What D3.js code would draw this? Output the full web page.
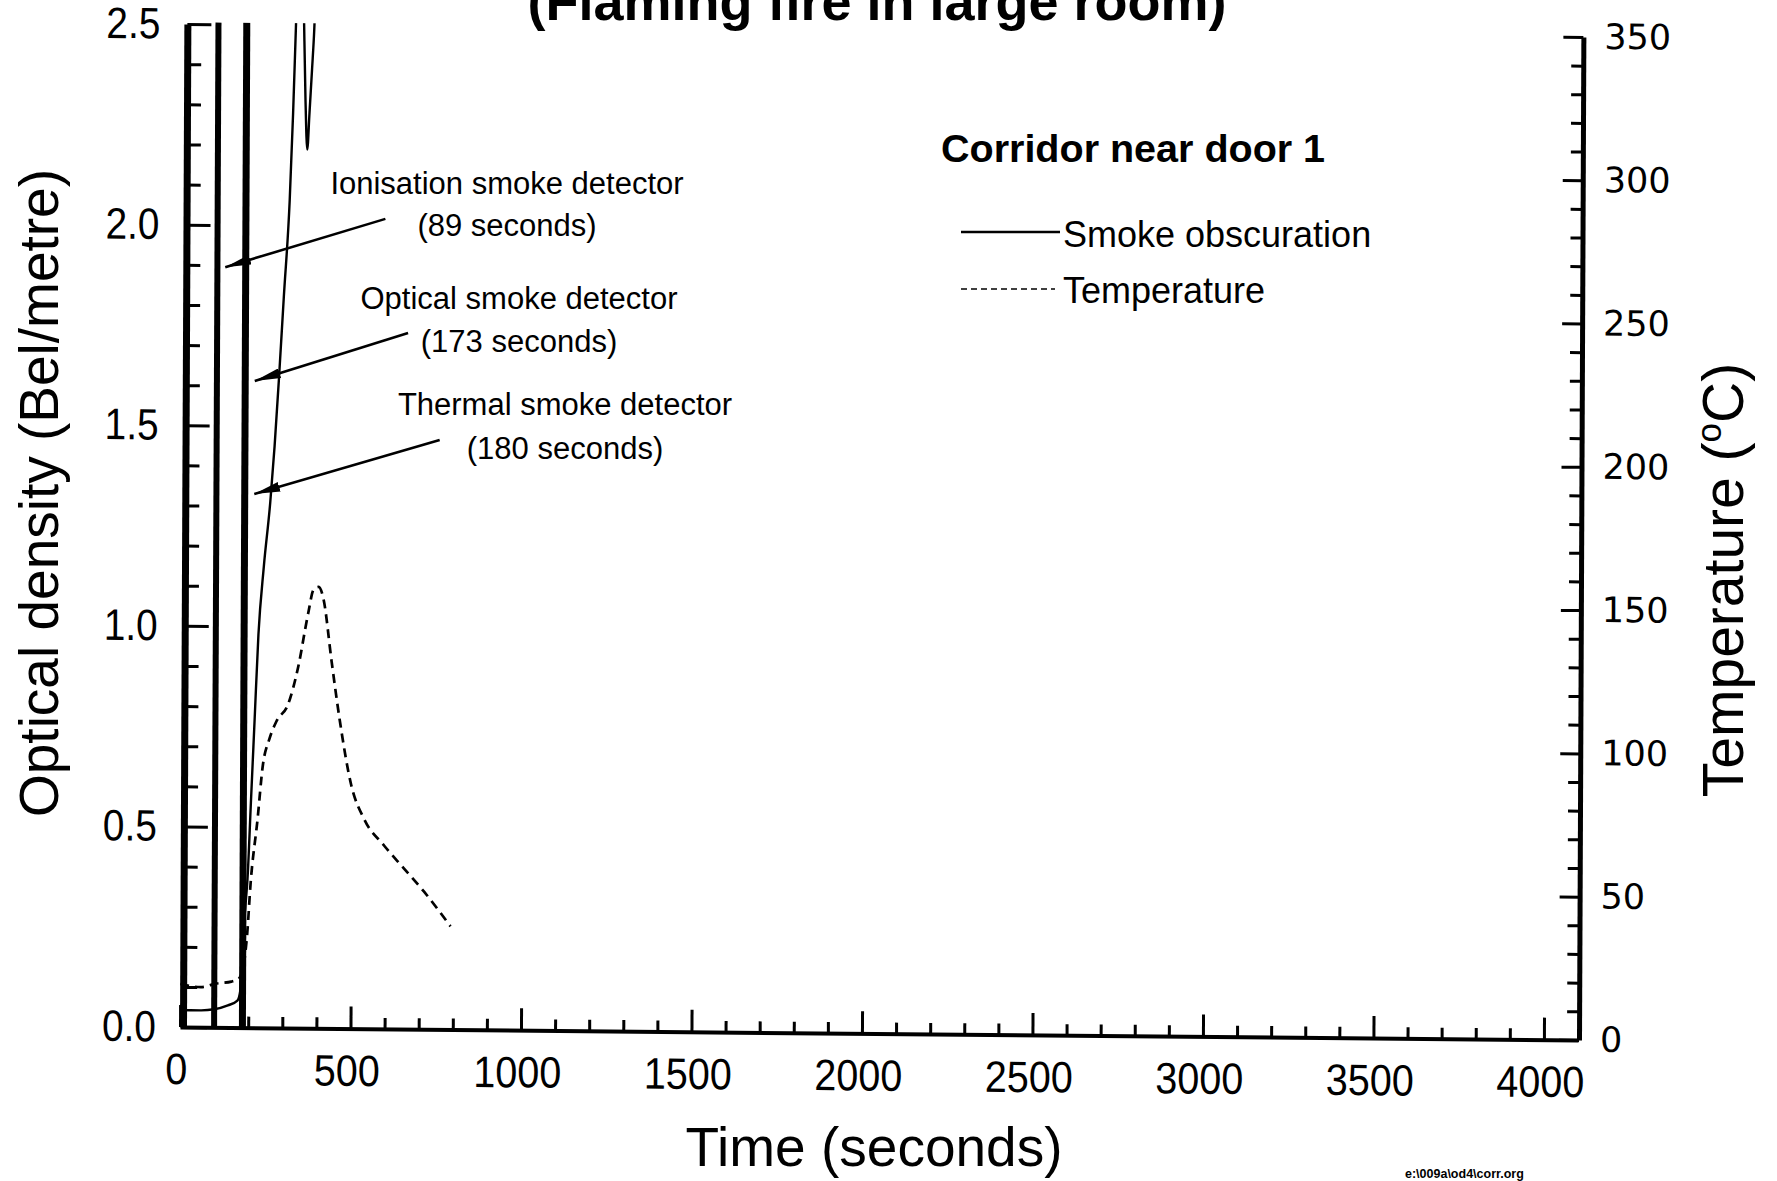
<!DOCTYPE html>
<html><head><meta charset="utf-8">
<script src="https://cdn.jsdelivr.net/npm/d3@7"></script>
<style>
html,body{margin:0;padding:0;background:#fff;}
svg{display:block;font-family:"Liberation Sans",Arial,Helvetica,sans-serif;}
</style></head><body>
<svg id="chart" width="1777" height="1181"></svg>
<script>
// ---- data ----
const smokeTime    = [0, 60, 100, 140, 168, 176, 182, 190, 196, 205, 215, 225, 240, 258, 270, 282, 295, 311, 320, 327, 336, 343, 350, 356, 362, 368, 375, 381, 390, 420, 500, 600, 700, 800];
const smokeDensity = [0.042, 0.042, 0.045, 0.055, 0.067, 0.09, 0.2, 0.3, 0.37, 0.56, 0.77, 0.98, 1.15, 1.31, 1.45, 1.62, 1.82, 2.06, 2.28, 2.49, 2.75, 2.8, 2.55, 2.32, 2.19, 2.28, 2.39, 2.49, 2.75, 3.0, 3.2, 3.3, 3.3, 3.3];
const tempTime  = [0, 60, 107, 150, 171, 186, 196, 205, 225, 239, 259, 279, 313, 342, 371, 386, 401, 415, 440, 464, 499, 538, 596, 655, 714, 792];
const tempValue = [15, 14, 15.3, 16, 17, 22, 33, 50, 73, 91, 101, 107, 113, 126, 145, 153, 154, 150, 128, 108, 85, 73, 64, 56, 48, 36];
const detectorMarkTimes = [100, 183];
const xTickValues = [0, 500, 1000, 1500, 2000, 2500, 3000, 3500, 4000];
const yLeftTickValues = [0, 0.5, 1.0, 1.5, 2.0, 2.5];
const yRightTickValues = [0, 50, 100, 150, 200, 250, 300, 350];
const annotationLines = [["Ionisation smoke detector", "(89 seconds)"], ["Optical smoke detector", "(173 seconds)"], ["Thermal smoke detector", "(180 seconds)"]];
const arrowFromTime  = [592, 660, 754];
const arrowFromValue = [2.019, 1.735, 1.469];
const arrowToTime    = [123, 211, 211];
const arrowToValue   = [1.895, 1.612, 1.330];
const legendLabels = ["Smoke obscuration", "Temperature"];

// ---- scales ----
const x  = d3.scaleLinear().domain([0, 4100]).range([180, 1578]);
const y  = d3.scaleLinear().domain([0, 2.5]).range([1027, 24]);
const yT = d3.scaleLinear().domain([0, 350]).range([1027, 24]);

const svg = d3.select("#chart");
const defs = svg.append("defs");
defs.append("clipPath").attr("id", "clip").append("rect")
  .attr("x", 180).attr("y", 22).attr("width", 1398).attr("height", 1005);
defs.append("marker").attr("id", "ah").attr("viewBox", "0 0 26 10")
  .attr("refX", 26).attr("refY", 5).attr("markerWidth", 26).attr("markerHeight", 10)
  .attr("markerUnits", "userSpaceOnUse").attr("orient", "auto")
  .append("path").attr("d", "M0,0 L26,5 L0,10 Z").attr("fill", "#000");

// the scanned frame is slightly sheared
const plot = svg.append("g")
  .attr("transform", "translate(180,1027) skewY(0.53) skewX(-0.25) translate(-180,-1027)");

function styleAxis(g, tickW) {
  g.attr("font-family", null).attr("font-size", null);
  g.selectAll(".tick line").attr("stroke", "#000").attr("stroke-width", tickW);
}

// minor ticks
const xMinor = d3.range(0, 4101, 100).filter(v => v % 500 !== 0);
const yMinor = d3.range(0, 26, 1).map(v => v / 10).filter(v => Math.round(v * 10) % 5 !== 0);
const tMinor = d3.range(0, 351, 10).filter(v => v % 50 !== 0);

plot.append("g").attr("transform", "translate(0,1027)")
  .call(d3.axisBottom(x).tickValues(xMinor).tickFormat("").tickSizeInner(-11).tickSizeOuter(0))
  .call(g => { g.select(".domain").remove(); styleAxis(g, 3); });
plot.append("g").attr("transform", "translate(183,0)")
  .call(d3.axisLeft(y).tickValues(yMinor).tickFormat("").tickSizeInner(-14).tickSizeOuter(0))
  .call(g => { g.select(".domain").remove(); styleAxis(g, 3); });
plot.append("g").attr("transform", "translate(1579,0)")
  .call(d3.axisRight(yT).tickValues(tMinor).tickFormat("").tickSizeInner(-12).tickSizeOuter(0))
  .call(g => { g.select(".domain").remove(); styleAxis(g, 3); });

// major axes
const xAxisG = plot.append("g").attr("transform", "translate(0,1027)")
  .call(d3.axisBottom(x).tickValues(xTickValues).tickFormat(d3.format("d")).tickSizeInner(-22).tickSizeOuter(0).tickPadding(26));
styleAxis(xAxisG, 3);
xAxisG.select(".domain").attr("stroke", "#000").attr("stroke-width", 4);
xAxisG.selectAll("text").attr("font-size", 44).attr("fill", "#000").attr("dx", -4)
  .attr("textLength", d => String(d).length * 22).attr("lengthAdjust", "spacingAndGlyphs");

const yAxisG = plot.append("g").attr("transform", "translate(183,0)")
  .call(d3.axisLeft(y).tickValues(yLeftTickValues).tickFormat(d3.format(".1f")).tickSizeInner(-24).tickSizeOuter(0).tickPadding(27));
styleAxis(yAxisG, 3);
yAxisG.select(".domain").attr("stroke", "#000").attr("stroke-width", 7);
yAxisG.selectAll("text").attr("font-size", 44).attr("fill", "#000")
  .attr("textLength", 54).attr("lengthAdjust", "spacingAndGlyphs");

const yRAxisG = plot.append("g").attr("transform", "translate(1579,0)")
  .call(d3.axisRight(yT).tickValues(yRightTickValues).tickFormat(d3.format("d")).tickSizeInner(-20).tickSizeOuter(0).tickPadding(21));
styleAxis(yRAxisG, 3);
yRAxisG.select(".domain").attr("stroke", "#000").attr("stroke-width", 5);
yRAxisG.selectAll("text").attr("font-size", 35).attr("fill", "#000")
  .attr("font-family", "'DejaVu Sans', Verdana, sans-serif");

// data
const clipped = plot.append("g").attr("clip-path", "url(#clip)");
clipped.selectAll("line.det").data(detectorMarkTimes).join("line").attr("class", "det")
  .attr("x1", d => x(d)).attr("x2", d => x(d)).attr("y1", y(2.5) - 2).attr("y2", y(0))
  .attr("stroke", "#000").attr("stroke-width", (d, i) => i === 0 ? 6 : 7);

const smoke = smokeTime.map((t, i) => [t, smokeDensity[i]]);
clipped.append("path").datum(smoke)
  .attr("d", d3.line().x(d => x(d[0])).y(d => y(d[1])).curve(d3.curveMonotoneX))
  .attr("fill", "none").attr("stroke", "#000").attr("stroke-width", 2.4);

const temp = tempTime.map((t, i) => [t, tempValue[i]]);
clipped.append("path").datum(temp)
  .attr("d", d3.line().x(d => x(d[0])).y(d => yT(d[1])).curve(d3.curveMonotoneX))
  .attr("fill", "none").attr("stroke", "#000").attr("stroke-width", 2.7)
  .attr("stroke-dasharray", "9,6");

// annotation arrows
plot.selectAll("line.arrow").data(arrowFromTime).join("line").attr("class", "arrow")
  .attr("x1", (d, i) => x(arrowFromTime[i])).attr("y1", (d, i) => y(arrowFromValue[i]))
  .attr("x2", (d, i) => x(arrowToTime[i])).attr("y2", (d, i) => y(arrowToValue[i]))
  .attr("stroke", "#000").attr("stroke-width", 2.6).attr("marker-end", "url(#ah)");

// annotation text
const annPos = [[507, 194, 236], [519, 309, 352], [565, 415, 459]];
annotationLines.forEach((lines, i) => {
  lines.forEach((s, j) => {
    svg.append("text").attr("x", annPos[i][0]).attr("y", annPos[i][1 + j])
      .attr("text-anchor", "middle").attr("font-size", 31).attr("fill", "#000").text(s);
  });
});

// title (cut off at the top as in the scan)
svg.append("text").attr("x", 877).attr("y", 20).attr("text-anchor", "middle")
  .attr("font-size", 54).attr("font-weight", "bold").text("(Flaming fire in large room)");

// legend
svg.append("text").attr("x", 941).attr("y", 162).attr("font-size", 39.5).attr("font-weight", "bold")
  .text("Corridor near door 1");
svg.append("line").attr("x1", 961).attr("x2", 1060).attr("y1", 232).attr("y2", 232)
  .attr("stroke", "#000").attr("stroke-width", 2.4);
svg.append("line").attr("x1", 961).attr("x2", 1055).attr("y1", 289).attr("y2", 289)
  .attr("stroke", "#000").attr("stroke-width", 1.6).attr("stroke-dasharray", "6,4");
svg.append("text").attr("x", 1063).attr("y", 247).attr("font-size", 36).text(legendLabels[0]);
svg.append("text").attr("x", 1063).attr("y", 303).attr("font-size", 36).text(legendLabels[1]);

// axis titles
svg.append("text").attr("x", 874).attr("y", 1166).attr("text-anchor", "middle")
  .attr("font-size", 55).text("Time (seconds)");
svg.append("text").attr("transform", "translate(58,493) rotate(-90)").attr("text-anchor", "middle")
  .attr("font-size", 55).text("Optical density (Bel/metre)");
const rt = svg.append("text").attr("transform", "translate(1743,580) rotate(-90)").attr("text-anchor", "middle")
  .attr("font-size", 57);
rt.append("tspan").text("Temperature (");
rt.append("tspan").attr("font-size", 35).attr("dy", -22).text("o");
rt.append("tspan").attr("dy", 22).text("C)");

// footer file path
svg.append("text").attr("x", 1405).attr("y", 1178).attr("font-size", 12.5).attr("font-weight", "bold")
  .text("e:\\009a\\od4\\corr.org");
</script>
</body></html>
